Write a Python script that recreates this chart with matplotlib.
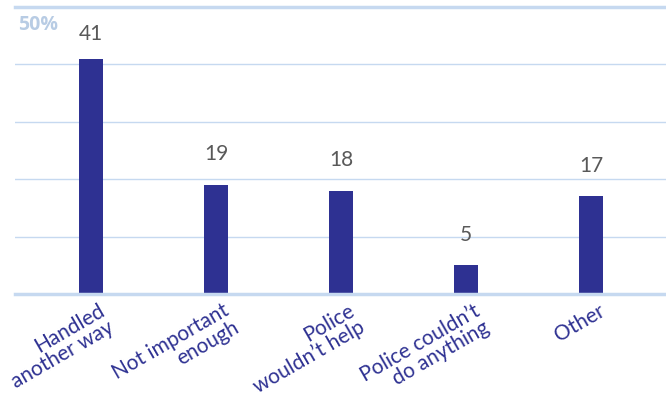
import matplotlib.pyplot as plt
import matplotlib.transforms as mtransforms

# data
categories = ["Handled\nanother way", "Not important\nenough", "Police\nwouldn\u2019t help",
              "Police couldn\u2019t\ndo anything", "Other"]
values = [41, 19, 18, 5, 17]

bar_color = "#2e3192"
grid_color = "#c6d9f0"

plt.rcParams['font.family'] = ['Lato', 'DejaVu Sans']

fig = plt.figure(figsize=(6.66, 4.02), dpi=100)
ax = fig.add_axes([0.0225, 0.266, 0.9775, 0.714])

x = list(range(len(categories)))
ax.bar(x, values, width=0.192, color=bar_color, zorder=3)

for xi, v in zip(x, values):
    # tallest label gets pushed down so it stays inside the plot
    off = 11 if v > 38 else 15.5
    ax.annotate(str(v), (xi, v), xytext=(0, off), textcoords="offset points",
                ha="center", va="bottom", fontsize=15, color="#595959")

ax.set_xlim(-0.608, 4.6)
ax.set_ylim(0, 50)
ax.set_yticks([10, 20, 30, 40])
ax.yaxis.grid(True, color=grid_color, linewidth=1, zorder=0)
ax.tick_params(axis="y", length=0, labelleft=False)
ax.axhline(50, color=grid_color, linewidth=2.5, zorder=1, clip_on=False)
ax.axhline(0, color=grid_color, linewidth=2.5, zorder=4, clip_on=False)
for s in ax.spines.values():
    s.set_visible(False)

ax.set_xticks(x)
ax.set_xticklabels(categories, rotation=30, ha="right", rotation_mode="anchor",
                   multialignment="right", fontsize=15, color=bar_color,
                   linespacing=0.95)
ax.tick_params(axis="x", length=0, pad=4)
offset = mtransforms.ScaledTranslation(5 / 72, 0, fig.dpi_scale_trans)
for lbl in ax.get_xticklabels():
    lbl.set_transform(lbl.get_transform() + offset)

ax.text(0.004, 0.941, "50%", transform=ax.transAxes, fontsize=14, fontweight="bold",
        family=["Open Sans", "DejaVu Sans"], color="#b8cce4", ha="left", va="center")

fig.savefig("out.png", dpi=100)
